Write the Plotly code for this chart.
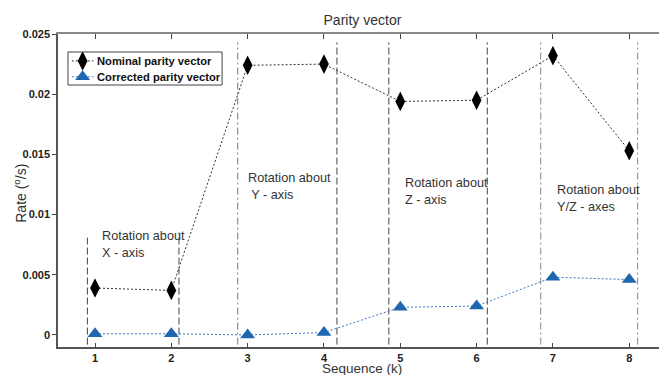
import plotly.graph_objects as go

seq = [1, 2, 3, 4, 5, 6, 7, 8]
nominal = [0.0039, 0.0037, 0.0224, 0.0225, 0.0194, 0.0195, 0.0232, 0.0153]
corrected = [0.0001, 0.0001, 0.0000, 0.0002, 0.0023, 0.0024, 0.0048, 0.0046]
series_names = ["Nominal parity vector", "Corrected parity vector"]

# region boundary lines: x, top y, dash style, color
bound_x = [0.9, 2.1, 2.87, 4.17, 4.85, 6.14, 6.84, 8.11]
bound_top = [0.0083, 0.0085, 0.0243, 0.0243, 0.0243, 0.0243, 0.0243, 0.0243]
bound_dash = ["7px,3px", "7px,3px", "7px,3px,2px,3px", "7px,3px", "7px,3px", "7px,3px",
              "7px,3px,2px,3px", "7px,3px,2px,3px"]
bound_color = ["#444", "#444", "#777", "#444", "#444", "#444", "#888", "#888"]

region_labels = ["Rotation about<br>X - axis", "Rotation about<br> Y - axis",
                 "Rotation about<br>Z - axis", "Rotation about<br>Y/Z - axes"]
region_x = [1.07, 2.98, 5.04, 7.03]
region_y = [0.0090, 0.0138, 0.0134, 0.0128]

NOM_COLOR, NOM_LINE = "black", "#333"
COR_COLOR, COR_LINE = "#1f66b0", "#3a78c0"

fig = go.Figure()
for x, t, d, c in zip(bound_x, bound_top, bound_dash, bound_color):
    fig.add_trace(go.Scatter(x=[x, x], y=[-0.0008, t], mode="lines",
                             line=dict(color=c, width=1, dash=d),
                             showlegend=False, hoverinfo="skip"))

fig.add_trace(go.Scatter(x=seq, y=nominal, mode="lines+markers", name=series_names[0],
                         line=dict(color=NOM_LINE, width=1, dash="2px,2px"),
                         marker=dict(symbol="diamond-tall", size=14, color=NOM_COLOR),
                         showlegend=False))
fig.add_trace(go.Scatter(x=seq, y=corrected, mode="lines+markers", name=series_names[1],
                         line=dict(color=COR_LINE, width=1, dash="2px,2px"),
                         marker=dict(symbol="triangle-up", size=13, color=COR_COLOR),
                         showlegend=False))
fig.add_trace(go.Scatter(x=[None], y=[None], xaxis="x2", showlegend=False))

# manual compact legend drawn in an inset axis (units: 0..1 across the box)
leg_rows = [0.27, 0.75]
for name, row, sym, sz, mc, lc in zip(series_names, leg_rows, ["diamond-tall", "triangle-up"],
                                      [14, 13], [NOM_COLOR, COR_COLOR], [NOM_LINE, COR_LINE]):
    fig.add_trace(go.Scatter(x=[0.025, 0.165], y=[row, row], mode="lines", xaxis="x3", yaxis="y3",
                             line=dict(color=lc, width=1, dash="2px,2px"),
                             showlegend=False, hoverinfo="skip"))
    fig.add_trace(go.Scatter(x=[0.095], y=[row], mode="markers", xaxis="x3", yaxis="y3",
                             marker=dict(symbol=sym, size=sz, color=mc),
                             showlegend=False, hoverinfo="skip"))
    fig.add_annotation(x=0.175, y=row, xref="x3", yref="y3", text=name, showarrow=False,
                       xanchor="left", yanchor="middle",
                       font=dict(size=11.2, weight="bold", color="#111"))

fig.add_shape(type="rect", xref="x3 domain", yref="y3 domain", x0=0, x1=1, y0=0, y1=1,
              line=dict(color="#444", width=1), fillcolor="rgba(0,0,0,0)")

for txt, x, y in zip(region_labels, region_x, region_y):
    fig.add_annotation(x=x, y=y, text=txt, showarrow=False, xanchor="left", yanchor="top",
                       align="left", font=dict(size=12.7, color="#333", family="Liberation Sans"))

fig.add_annotation(x=0.505, xref="paper", y=-0.068, yref="paper", text="Sequence (k)",
                   showarrow=False, xanchor="center", yanchor="middle",
                   font=dict(size=13.5, color="#333"))
fig.add_annotation(x=-0.063, xref="paper", y=0.49, yref="paper", text="Rate (<sup>o</sup>/s)",
                   showarrow=False, xanchor="center", yanchor="middle", textangle=-90,
                   font=dict(size=14, color="#333"))

fig.update_layout(
    width=659, height=375,
    margin=dict(l=58, r=0, t=34, b=28),
    plot_bgcolor="white", paper_bgcolor="white",
    font=dict(family="Liberation Sans", color="#222"),
    title=dict(text="Parity vector", x=0.55, xanchor="center", y=0.947, yanchor="middle",
               font=dict(size=14, color="#333")),
    xaxis=dict(range=[0.515, 8.39], tickvals=seq, ticks="inside", ticklen=4,
               showgrid=False, zeroline=False, showline=True, linecolor="#555", linewidth=1.5,
               automargin=False,
               tickfont=dict(size=11, weight="bold", color="#222")),
    xaxis2=dict(range=[0.515, 8.39], overlaying="x", side="top", tickvals=seq,
                ticks="inside", ticklen=5, showticklabels=False, showgrid=False, automargin=False,
                zeroline=False, showline=True, linecolor="#888", linewidth=1.5, matches="x"),
    yaxis=dict(range=[-0.001, 0.025], tickvals=[0, 0.005, 0.01, 0.015, 0.02, 0.025],
               ticktext=["0", "0.005", "0.01", "0.015", "0.02", "0.025"],
               ticks="outside", ticklen=4, showgrid=False, zeroline=False, automargin=False,
               showline=True, linecolor="#555", linewidth=1.5,
               tickfont=dict(size=11, weight="bold", color="#222")),
    xaxis3=dict(domain=[0.0166, 0.273], range=[0, 1], anchor="y3", visible=False, fixedrange=True),
    yaxis3=dict(domain=[0.837, 0.9425], range=[1, 0], anchor="x3", visible=False, fixedrange=True),
    showlegend=False,
)

fig.write_html("out.html", config={"displayModeBar": False},
               post_script="document.body.style.margin='0';")
